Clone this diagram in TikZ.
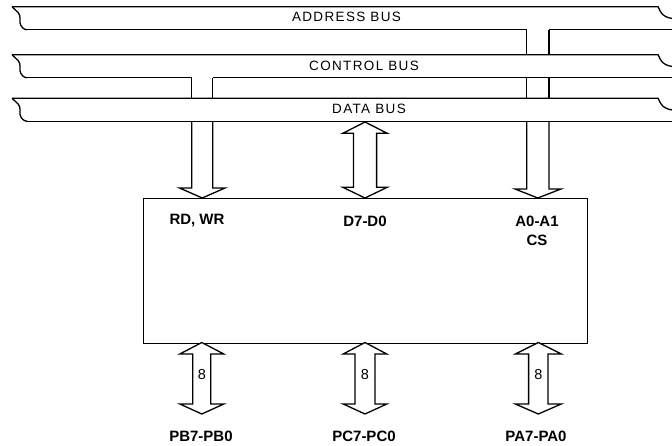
\documentclass[tikz,border=0pt]{standalone}
\usepackage{fontspec}
\setmainfont{Liberation Sans}
\newcommand\mydblarrow[7]{% cx, shaft half, head half, ytip1, ybase1, ybase2, ytip2
  \draw[hollow] (#1,#4) -- (#1+#3,#5) -- (#1+#2,#5) -- (#1+#2,#6) -- (#1+#3,#6) -- (#1,#7)
    -- (#1-#3,#6) -- (#1-#2,#6) -- (#1-#2,#5) -- (#1-#3,#5) -- cycle;}
\newcommand\mybusleft[1]{% top y
  \draw (12,#1) -- (18.3,#1+6) .. controls (21,#1+9.5) and (19.5,#1+13) .. (20,#1+16.3)
    .. controls (21,#1+20.5) and (24,#1+23) .. (27,#1+23);}
\newcommand\mybusright[1]{%
  \draw (12,#1) -- (658,#1) -- (660.5,#1+5) .. controls (663,#1+9.5) and (668,#1+11.3) .. (672,#1+11.7);}
\begin{document}
\begin{tikzpicture}[x=1pt,y=-1pt,line width=1.3pt,
  buslabel/.style={font=\fontsize{13.5}{15}\selectfont\addfontfeature{LetterSpace=10}},
  pinlabel/.style={font=\fontsize{15}{17}\selectfont\bfseries},
  widthlabel/.style={font=\fontsize{14.5}{16}\selectfont},
  hollow/.style={draw,fill=white}]
\useasboundingbox (0,0) rectangle (672,446);

% ---------- buses ----------
% address bus (top 6.7, bottom 29.7)
\mybusright{6.7}\mybusleft{6.7}
\draw (27,29.7) -- (526.7,29.7);
\draw (549,29.7) -- (672,29.7);
\node[buslabel] (addr) at (346.5,17.3) {ADDRESS BUS};

% control bus (top 54.7, bottom 77.7)
\mybusright{54.7}\mybusleft{54.7}
\draw (27,77.7) -- (191.8,77.7);
\draw (212.8,77.7) -- (672,77.7);
\node[buslabel] (ctrl) at (364,65.5) {CONTROL BUS};

% data bus (top 98.2, bottom 121.2)
\mybusright{98.2}\mybusleft{98.2}
\draw (27,121.2) -- (672,121.2);
\node[buslabel] (data) at (369,108.5) {DATA BUS};

% ---------- 8255 box ----------
\node[draw, anchor=north west, minimum width=444pt, minimum height=144.5pt, inner sep=0pt] (chip) at (143,198) {};
\node[pinlabel] (rdwr) at (197,221) {RD, WR};
\node[pinlabel] (dd) at (365,221) {D7-D0};
\node[pinlabel] (aa) at (537,221) {A0-A1};
\node[pinlabel] (cs) at (537,240) {CS};

% ---------- control arrow (RD, WR) ----------
\draw (191.8,77.7) -- (191.8,98.2);
\draw (212.8,77.7) -- (212.8,98.2);
\draw (191.8,121.2) -- (191.8,188) -- (179.5,188) -- (202.3,198) -- (225,188) -- (212.8,188) -- (212.8,121.2);

% ---------- address arrow ----------
\draw (526.7,29.7) -- (526.7,54.7);
\draw (549,29.7) -- (549,54.7);
\draw (526.7,77.7) -- (526.7,98.2);
\draw (549,77.7) -- (549,98.2);
\draw (526.7,121.2) -- (526.7,189) -- (515,189) -- (537.8,198) -- (561,189) -- (549,189) -- (549,121.2);

% ---------- data arrow ----------
\mydblarrow{365}{11.6}{22.2}{122}{133.3}{187.3}{198}

% ---------- port arrows ----------
\mydblarrow{201.8}{9}{22}{342.5}{354}{404}{414}
\mydblarrow{365}{10}{21.8}{342.5}{354}{404}{414}
\mydblarrow{538.3}{9.7}{23}{342.5}{354}{404}{414}
\node[widthlabel] (w1) at (201.8,374.5) {8};
\node[widthlabel] (w2) at (365,374.5) {8};
\node[widthlabel] (w3) at (538.3,374.5) {8};

\node[pinlabel] (pb) at (201,436.5) {PB7-PB0};
\node[pinlabel] (pc) at (364,436.5) {PC7-PC0};
\node[pinlabel] (pa) at (536,436.5) {PA7-PA0};
\end{tikzpicture}
\end{document}
